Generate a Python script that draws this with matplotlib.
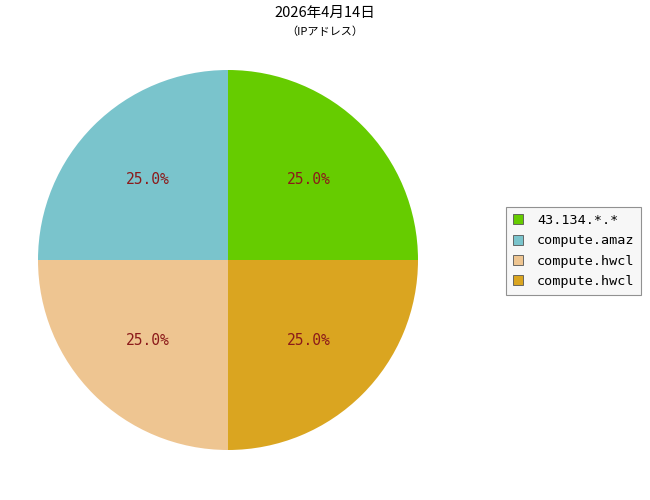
import matplotlib
matplotlib.use("Agg")
import matplotlib.pyplot as plt

labels = ["43.134.*.*", "compute.amaz", "compute.hwcl", "compute.hwcl"]
values = [25, 25, 25, 25]
colors = ["#66CC00", "#7AC4CC", "#EEC591", "#DAA520"]

plt.rcParams['font.family'] = ['Noto Sans CJK JP', 'DejaVu Sans']

fig = plt.figure(figsize=(6.5, 5), dpi=100)
ax = fig.add_axes([38/650, 50/500, 380/650, 380/500])
wedges, texts, autotexts = ax.pie(values, colors=colors, startangle=0, counterclock=True,
                                  autopct="%1.1f%%", pctdistance=0.6,
                                  textprops=dict(color="#8B1A1A", fontsize=10.5, family=['DejaVu Sans Mono']))
ax.set_aspect('equal')
ax.set_xlim(-1, 1)
ax.set_ylim(-1, 1)

fig.text(0.5, 1 - 13/500, "2026年4月14日", ha="center", va="center", fontsize=10.5)
fig.text(0.5, 1 - 32/500, "（IPアドレス）", ha="center", va="center", fontsize=8)

leg = fig.legend(wedges, labels, loc="center left", bbox_to_anchor=(506/650, 1 - 251/500),
                 frameon=True, fancybox=False, edgecolor="#777777", facecolor="#F5F5F5",
                 prop=dict(family=['DejaVu Sans Mono'], size=9.7), handlelength=0.75, handleheight=0.75,
                 handletextpad=1.05, borderpad=0.5, borderaxespad=0, labelspacing=0.55)
leg.get_frame().set_linewidth(0.8)
for h in leg.legend_handles:
    h.set_edgecolor("#555555")
    h.set_linewidth(0.6)

fig.savefig("out.png", dpi=100)
